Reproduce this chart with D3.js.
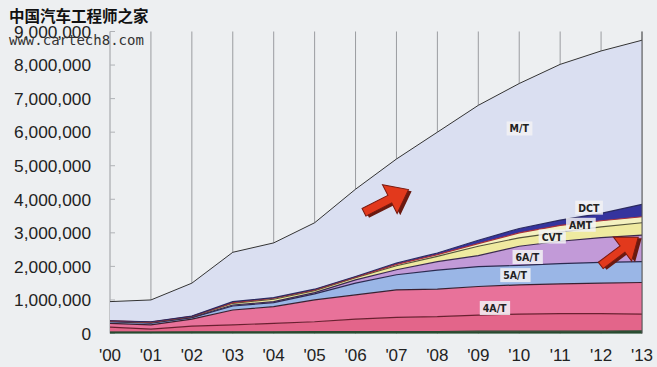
<!DOCTYPE html>
<html><head><meta charset="utf-8">
<script src="https://cdn.jsdelivr.net/npm/d3@7/dist/d3.min.js"></script>
<style>
html,body{margin:0;padding:0;background:#edeff1;}
svg{display:block;}
</style></head>
<body>
<svg id="chart" width="657" height="367"></svg>
<script>
// ---- data (units sold) ----
const years = [2000,2001,2002,2003,2004,2005,2006,2007,2008,2009,2010,2011,2012,2013];
const yearLabels = ["'00","'01","'02","'03","'04","'05","'06","'07","'08","'09","'10","'11","'12","'13"];
const seriesNames = ["Others","3A/T","4A/T","5A/T","6A/T","CVT","AMT","DCT","M/T"];
const others = [40000,40000,50000,50000,50000,60000,60000,60000,60000,70000,70000,70000,70000,80000];
const at3 = [150000,90000,170000,210000,250000,290000,370000,420000,440000,480000,510000,520000,520000,500000];
const at4 = [110000,130000,210000,440000,500000,650000,720000,820000,820000,850000,870000,890000,910000,940000];
const at5 = [50000,50000,40000,120000,120000,180000,350000,450000,570000,590000,580000,600000,620000,620000];
const at6 = [10000,10000,10000,30000,30000,40000,100000,150000,250000,330000,570000,670000,740000,790000];
const cvt = [10000,10000,20000,50000,70000,60000,60000,120000,160000,280000,250000,270000,320000,370000];
const amt = [5000,10000,10000,20000,30000,20000,20000,40000,50000,80000,150000,200000,180000,180000];
const dct = [5000,10000,10000,30000,20000,20000,20000,40000,50000,100000,130000,160000,220000,370000];
const mt  = [570000,650000,980000,1470000,1630000,1980000,2600000,3100000,3600000,4020000,4320000,4640000,4840000,4890000];
const yTicks = [0,1000000,2000000,3000000,4000000,5000000,6000000,7000000,8000000,9000000];

const seriesValues = [others,at3,at4,at5,at6,cvt,amt,dct,mt];
const fills = ["#2f5f3e","#e3658a","#e8729a","#9ab6e6","#c29ad8","#efeaa0","#f4f1c0","#35349e","#dadff1"];
const strokes = ["#2a4a30","#6a2030","#3a2030","#2a2a50","#3a2a50","#55553a","#a8303a","#2a2a60","#333"];

const table = years.map((yr,i)=>{
  const row = {year:yr};
  seriesNames.forEach((n,k)=>row[n]=seriesValues[k][i]);
  return row;
});

const svg = d3.select("#chart");
const x = d3.scaleLinear().domain([2000,2013]).range([110,642]);
const y = d3.scaleLinear().domain([0,9000000]).range([333.5,31.5]);

// vertical grid lines
svg.append("g").selectAll("line").data(years).join("line")
  .attr("x1",d=>x(d)).attr("x2",d=>x(d))
  .attr("y1",y(9000000)).attr("y2",y(0))
  .attr("stroke","#9a9ca0").attr("stroke-width",1);

// y ticks
svg.append("g").selectAll("line").data(yTicks).join("line")
  .attr("x1",x(2000)).attr("x2",x(2000)+5)
  .attr("y1",d=>y(d)).attr("y2",d=>y(d))
  .attr("stroke","#b0b2b6").attr("stroke-width",1);

const stack = d3.stack().keys(seriesNames);
const layers = stack(table);

const area = d3.area().x(d=>x(d.data.year)).y0(d=>y(d[0])).y1(d=>y(d[1]));
const topLine = d3.line().x(d=>x(d.data.year)).y(d=>y(d[1]));

svg.append("g").selectAll("path").data(layers).join("path")
  .attr("d",area).attr("fill",(d,i)=>fills[i]);
svg.append("g").selectAll("path").data(layers).join("path")
  .attr("d",topLine).attr("fill","none")
  .attr("stroke",(d,i)=>strokes[i]).attr("stroke-width",(d,i)=>i===8?1:1.2);
// baseline
svg.append("line").attr("x1",x(2000)).attr("x2",x(2013)).attr("y1",y(0)-1).attr("y2",y(0)-1)
  .attr("stroke","#2a4a30").attr("stroke-width",1.5);
// right edge
svg.append("line").attr("x1",x(2013)).attr("x2",x(2013)).attr("y1",y(9000000)).attr("y2",y(0))
  .attr("stroke","#555").attr("stroke-width",1);

// axis labels
svg.append("g").selectAll("text").data(yTicks).join("text")
  .attr("x",91).attr("y",d=>y(d)).attr("dy","0.36em")
  .attr("text-anchor","end").attr("font-family","Liberation Sans, Arial, sans-serif")
  .attr("font-size",17.3).attr("fill","#222")
  .text(d=>d3.format(",")(d));
svg.append("g").selectAll("text").data(years).join("text")
  .attr("x",d=>x(d)).attr("y",361)
  .attr("text-anchor","middle").attr("font-family","Liberation Sans, Arial, sans-serif")
  .attr("font-size",17).attr("fill","#222")
  .text((d,i)=>yearLabels[i]);

// series labels
const labels = [
  {name:"M/T", year:2010, v:6100000},
  {name:"DCT", year:2011.7, v:3740000},
  {name:"AMT", year:2011.5, v:3230000},
  {name:"CVT", year:2010.8, v:2880000},
  {name:"6A/T", year:2010.2, v:2270000},
  {name:"5A/T", year:2009.9, v:1730000},
  {name:"4A/T", year:2009.4, v:750000}
];
const lg = svg.append("g");
labels.forEach(l=>{
  const t = lg.append("text").attr("x",x(l.year)).attr("y",y(l.v)).attr("dy","0.35em")
    .attr("text-anchor","middle").attr("font-family","DejaVu Sans Condensed, DejaVu Sans, sans-serif")
    .attr("font-weight","bold").attr("font-size",10.5).attr("fill","#222").text(l.name);
  const b = t.node().getBBox();
  lg.insert("rect","text").attr("x",b.x-3).attr("y",b.y-1).attr("width",b.width+6).attr("height",b.height+2)
    .attr("fill","#f2f2f4").attr("opacity",0.85);
});
lg.selectAll("text").raise();

// arrows (annotations)
function arrow(cx,cy,angle,len,w){
  const g = svg.append("g").attr("transform",`translate(${cx},${cy}) rotate(${angle})`);
  const hl=len*0.42, hw=w*0.95, sw=w*0.5;
  const pts=[[-len/2,-sw/2],[len/2-hl,-sw/2],[len/2-hl,-hw],[len/2,0],[len/2-hl,hw],[len/2-hl,sw/2],[-len/2,sw/2]];
  g.append("polygon").attr("points",pts.map(p=>[p[0]+2,p[1]+3].join(",")).join(" ")).attr("fill","#6a1a10");
  g.append("polygon").attr("points",pts.map(p=>p.join(",")).join(" ")).attr("fill","#e2391c").attr("stroke","#7a1a10").attr("stroke-width",1);
}
arrow(x(2006.75),y(3950000),-27,50,17);
arrow(x(2012.45),y(2450000),-37,47,16);

// watermark
svg.append("text").attr("x",9).attr("y",22).attr("font-family","Noto Sans CJK SC, sans-serif")
  .attr("font-size",15.5).attr("font-weight","bold").attr("fill","#111").text("中国汽车工程师之家");
svg.append("text").attr("x",9).attr("y",45).attr("font-family","DejaVu Sans Mono, monospace")
  .attr("font-size",14).attr("fill","#333").text("www.cartech8.com");
</script>
</body></html>
